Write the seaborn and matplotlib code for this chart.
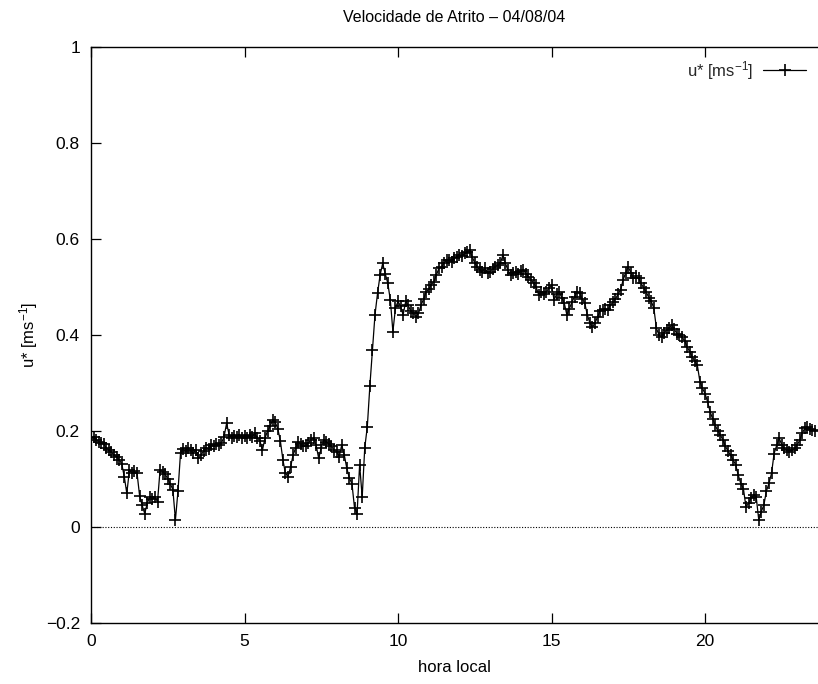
import numpy as np
import pandas as pd
import matplotlib
matplotlib.use("Agg")
import matplotlib.pyplot as plt
import seaborn as sns

# friction velocity u* [m/s], 5-minute samples starting at 00:00 local time
ustar_h00 = [0.185, 0.188, 0.182, 0.178, 0.176, 0.172, 0.165, 0.160, 0.156, 0.150, 0.146, 0.140]
ustar_h01 = [0.132, 0.105, 0.070, 0.118, 0.112, 0.116, 0.112, 0.065, 0.045, 0.028, 0.050, 0.063]
ustar_h02 = [0.058, 0.062, 0.053, 0.119, 0.115, 0.110, 0.100, 0.090, 0.078, 0.015, 0.075, 0.155]
ustar_h03 = [0.162, 0.158, 0.165, 0.160, 0.155, 0.160, 0.143, 0.150, 0.158, 0.165, 0.162, 0.170]
ustar_h04 = [0.168, 0.172, 0.170, 0.175, 0.188, 0.216, 0.192, 0.185, 0.190, 0.188, 0.192, 0.186]
ustar_h05 = [0.190, 0.185, 0.192, 0.188, 0.195, 0.186, 0.180, 0.160, 0.185, 0.200, 0.210, 0.223]
ustar_h06 = [0.218, 0.205, 0.180, 0.140, 0.112, 0.105, 0.125, 0.150, 0.165, 0.178, 0.172, 0.168]
ustar_h07 = [0.168, 0.175, 0.182, 0.185, 0.170, 0.143, 0.165, 0.181, 0.178, 0.172, 0.168, 0.160]
ustar_h08 = [0.157, 0.146, 0.171, 0.150, 0.122, 0.102, 0.090, 0.040, 0.028, 0.130, 0.062, 0.165]
ustar_h09 = [0.209, 0.294, 0.369, 0.442, 0.487, 0.525, 0.549, 0.528, 0.508, 0.473, 0.407, 0.456]
ustar_h10 = [0.470, 0.460, 0.442, 0.470, 0.462, 0.449, 0.445, 0.438, 0.445, 0.462, 0.475, 0.490]
ustar_h11 = [0.495, 0.505, 0.511, 0.525, 0.539, 0.542, 0.550, 0.556, 0.556, 0.552, 0.560, 0.563]
ustar_h12 = [0.567, 0.565, 0.570, 0.572, 0.577, 0.563, 0.550, 0.542, 0.535, 0.532, 0.540, 0.530]
ustar_h13 = [0.532, 0.538, 0.542, 0.546, 0.549, 0.567, 0.549, 0.535, 0.525, 0.530, 0.532, 0.528]
ustar_h14 = [0.533, 0.535, 0.528, 0.521, 0.515, 0.508, 0.500, 0.483, 0.490, 0.485, 0.490, 0.498]
ustar_h15 = [0.504, 0.473, 0.485, 0.490, 0.478, 0.466, 0.442, 0.455, 0.469, 0.480, 0.490, 0.487]
ustar_h16 = [0.476, 0.466, 0.442, 0.425, 0.417, 0.425, 0.438, 0.450, 0.452, 0.455, 0.452, 0.462]
ustar_h17 = [0.468, 0.475, 0.485, 0.494, 0.515, 0.530, 0.542, 0.530, 0.518, 0.522, 0.518, 0.508]
ustar_h18 = [0.498, 0.490, 0.478, 0.470, 0.456, 0.414, 0.400, 0.396, 0.405, 0.410, 0.415, 0.421]
ustar_h19 = [0.412, 0.403, 0.400, 0.396, 0.388, 0.376, 0.365, 0.355, 0.345, 0.337, 0.303, 0.289]
ustar_h20 = [0.278, 0.261, 0.240, 0.225, 0.212, 0.200, 0.192, 0.181, 0.168, 0.158, 0.150, 0.140]
ustar_h21 = [0.129, 0.108, 0.090, 0.080, 0.042, 0.049, 0.060, 0.067, 0.063, 0.015, 0.032, 0.046]
ustar_h22 = [0.075, 0.091, 0.112, 0.153, 0.170, 0.185, 0.171, 0.164, 0.160, 0.157, 0.160, 0.164]
ustar_h23 = [0.170, 0.181, 0.195, 0.206, 0.208, 0.205, 0.202, 0.200]

ustar = (ustar_h00 + ustar_h01 + ustar_h02 + ustar_h03 + ustar_h04 + ustar_h05
         + ustar_h06 + ustar_h07 + ustar_h08 + ustar_h09 + ustar_h10 + ustar_h11
         + ustar_h12 + ustar_h13 + ustar_h14 + ustar_h15 + ustar_h16 + ustar_h17
         + ustar_h18 + ustar_h19 + ustar_h20 + ustar_h21 + ustar_h22 + ustar_h23)

sample_minutes = 5
hora = np.arange(len(ustar)) * sample_minutes / 60.0

x_ticks = [0, 5, 10, 15, 20]
y_ticks = [-0.2, 0, 0.2, 0.4, 0.6, 0.8, 1]
y_tick_labels = ["\u22120.2", "0", "0.2", "0.4", "0.6", "0.8", "1"]

titulo = "Velocidade de Atrito \u2013 04/08/04"
serie_label = r"u* [ms$^{-1}$]"

df = pd.DataFrame({"hora": hora, "ustar": ustar})

sns.set_theme(style="white")
plt.rcParams["font.family"] = ["Liberation Sans", "DejaVu Sans"]
plt.rcParams["mathtext.fontset"] = "custom"
plt.rcParams["mathtext.rm"] = "Liberation Sans"
plt.rcParams["mathtext.it"] = "Liberation Sans"

fig = plt.figure(figsize=(8.18, 6.84), dpi=100)
ax = fig.add_axes([91 / 818, 1 - 623 / 684, 1 - 91 / 818, (623 - 47) / 684])

sns.lineplot(data=df, x="hora", y="ustar", ax=ax, color="black",
             linewidth=0.9, marker="+", markersize=8.5, markeredgewidth=1.2,
             markeredgecolor="black", label=serie_label, estimator=None)

# dotted zero line
ax.axhline(0, color="black", linestyle=(0, (1, 1.5)), linewidth=0.8, zorder=1)

ax.set_xlim(0, 23.68)
ax.set_ylim(-0.2, 1.0)
ax.set_xticks(x_ticks)
ax.set_yticks(y_ticks)
ax.set_yticklabels(y_tick_labels)

for side in ["left", "bottom", "top"]:
    ax.spines[side].set_visible(True)
    ax.spines[side].set_color("black")
    ax.spines[side].set_linewidth(1.0)
ax.spines["right"].set_visible(False)

ax.tick_params(axis="both", direction="in", length=7, width=0.9, color="black",
               labelsize=12.5, labelcolor="black", top=True, bottom=True, left=True,
               right=False, pad=8)

ax.set_xlabel("hora local", fontsize=12, color="black", labelpad=8)
ax.set_ylabel(serie_label, fontsize=12, color="black")
ax.yaxis.set_label_coords(-0.07, 0.5)
ax.set_title(titulo, fontsize=11.5, color="black", pad=18)

leg = ax.legend(loc="upper right", frameon=False, markerfirst=False,
                handlelength=2.6, handletextpad=0.6, fontsize=12,
                borderaxespad=0.3, bbox_to_anchor=(1.0, 1.0))

fig.savefig("out.png", dpi=100)
